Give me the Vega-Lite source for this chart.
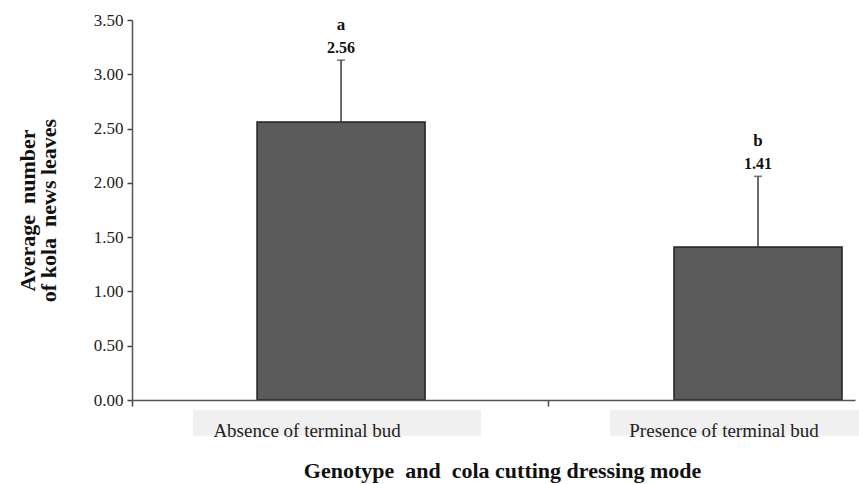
{
  "$schema": "https://vega.github.io/schema/vega-lite/v6.json",
  "autosize": "none",
  "padding": {"left": 132, "top": 20, "right": 4, "bottom": 84},
  "width": 723,
  "height": 380,
  "background": "white",
  "config": {"view": {"stroke": null}},
  "data": {
    "values": [
      {"mode": "Absence of terminal bud", "mean": 2.56, "upper": 3.13, "letter": "a", "label": "2.56"},
      {"mode": "Presence of terminal bud", "mean": 1.41, "upper": 2.06, "letter": "b", "label": "1.41"}
    ]
  },
  "encoding": {
    "x": {
      "field": "mode",
      "type": "nominal",
      "sort": null,
      "scale": {"paddingInner": 0.597, "paddingOuter": 0.1655, "align": 0.906},
      "axis": {
        "bandPosition": -0.744,
        "labelOffset": -34,
        "labelAngle": 0,
        "labelLimit": 400,
        "tickSize": 6,
        "tickColor": "#444",
        "tickWidth": 1.5,
        "domainColor": "#555",
        "domainWidth": 1.5,
        "labelPadding": 30,
        "labelBaseline": "alphabetic",
        "labelFont": "Liberation Serif, Times New Roman, serif",
        "labelFontSize": 19,
        "labelColor": "#222",
        "title": "Genotype \u00a0and \u00a0cola cutting dressing mode",
        "titleFont": "Liberation Serif, Times New Roman, serif",
        "titleFontSize": 22,
        "titleFontWeight": "bold",
        "titleColor": "#111",
        "titleBaseline": "alphabetic",
        "titleX": 370,
        "titleY": 77,
        "zindex": 1
      }
    }
  },
  "layer": [
    {
      "mark": {"type": "bar", "width": 288, "xOffset": -4, "color": "#f0f0f0"},
      "encoding": {
        "y": {"datum": -0.092, "type": "quantitative", "scale": {"domain": [0, 3.5]}},
        "y2": {"datum": -0.33}
      }
    },
    {
      "mark": {"type": "bar", "color": "#5a5a5a", "stroke": "#222", "strokeWidth": 1.5},
      "encoding": {
        "y": {
          "field": "mean",
          "type": "quantitative",
          "scale": {"domain": [0, 3.5]},
          "axis": {
            "values": [0, 0.5, 1, 1.5, 2, 2.5, 3, 3.5],
            "format": ".2f",
            "grid": false,
            "tickSize": 5,
            "tickColor": "#444",
            "tickWidth": 1.5,
            "domainColor": "#555",
            "domainWidth": 1.5,
            "labelFont": "Liberation Serif, Times New Roman, serif",
            "labelFontSize": 17,
            "labelColor": "#222",
            "labelPadding": 4,
            "title": ["Average \u00a0number", "of kola \u00a0news leaves"],
            "titleFont": "Liberation Serif, Times New Roman, serif",
            "titleFontSize": 22,
            "titleFontWeight": "bold",
            "titleColor": "#111",
            "titlePadding": 33,
            "titleLineHeight": 21
          }
        }
      }
    },
    {
      "mark": {"type": "rule", "color": "#3a3a3a", "strokeWidth": 1.5},
      "encoding": {
        "y": {"field": "mean", "type": "quantitative"},
        "y2": {"field": "upper"}
      }
    },
    {
      "mark": {"type": "tick", "color": "#3a3a3a", "size": 8, "thickness": 1.5},
      "encoding": {
        "y": {"field": "upper", "type": "quantitative"}
      }
    },
    {
      "mark": {"type": "text", "font": "Liberation Serif, Times New Roman, serif", "fontSize": 16, "fontWeight": "bold", "color": "#111", "baseline": "bottom", "dy": -4},
      "encoding": {
        "y": {"field": "upper", "type": "quantitative"},
        "text": {"field": "label"}
      }
    },
    {
      "mark": {"type": "text", "font": "Liberation Serif, Times New Roman, serif", "fontSize": 17, "fontWeight": "bold", "color": "#111", "baseline": "bottom", "dy": -26},
      "encoding": {
        "y": {"field": "upper", "type": "quantitative"},
        "text": {"field": "letter"}
      }
    }
  ]
}
